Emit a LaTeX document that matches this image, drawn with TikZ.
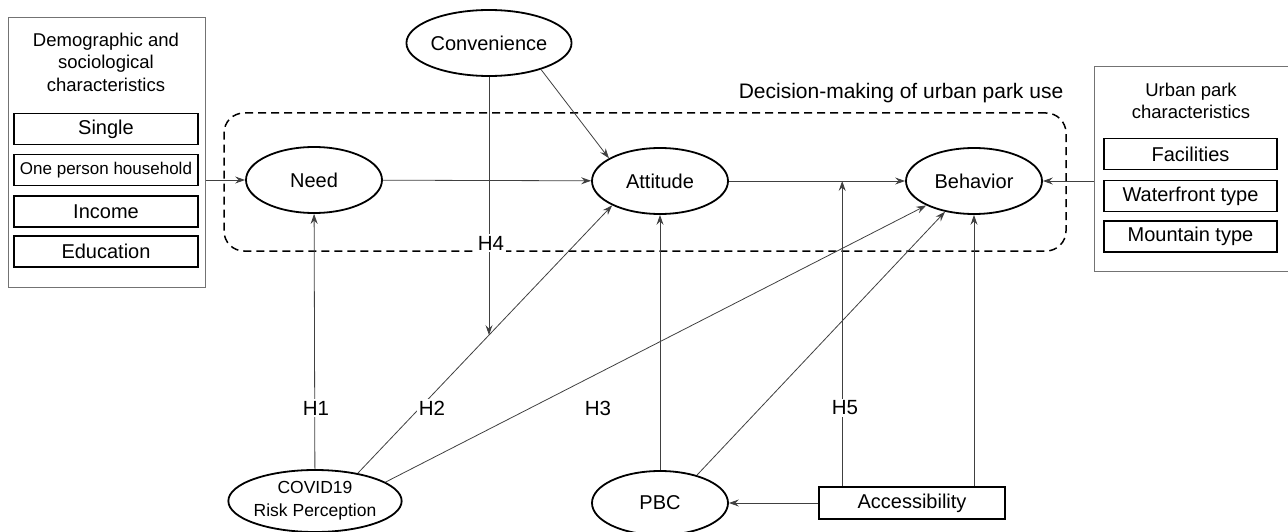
\documentclass[tikz,border=0pt]{standalone}
\usepackage{fontspec}
\setmainfont{Liberation Sans}
\usetikzlibrary{arrows.meta,shapes.geometric,calc,intersections}
\begin{document}
\begin{tikzpicture}[x=1pt,y=-1pt,
 ell/.style={ellipse,draw=black,line width=1.8pt,minimum width=136pt,minimum height=66pt,inner sep=0pt,font=\fontsize{20}{23}\selectfont},
 item/.style={rectangle,draw=black,line width=1.6pt,minimum width=184pt,minimum height=31pt,inner sep=0pt,font=\fontsize{20}{23}\selectfont},
 grp/.style={rectangle,draw=black!55,line width=1pt,inner sep=0pt},
 conn/.style={draw=black!75,line width=0.8pt,-{Stealth[length=10pt,width=7pt,inset=3.5pt]}},
 hlab/.style={fill=white,inner sep=2pt,font=\fontsize{20.5}{23}\selectfont},
 ttl/.style={align=center,font=\fontsize{18.5}{22.5}\selectfont}
]
\useasboundingbox (0,0) rectangle (1288,532);
\clip (0,0) rectangle (1288,532);

% left group
\node[grp,minimum width=197pt,minimum height=269pt] (lbox) at (106.5,152.5) {};
\node[ttl] (ltitle) at (106,62) {Demographic and\\sociological\\characteristics};
\node[item] (single) at (106,129) {Single};
\node[item,font=\fontsize{17}{20}\selectfont] (oneph) at (106,170) {One person household};
\node[item] (income) at (106,211.5) {Income};
\node[item] (edu) at (106,251.5) {Education};

% right group
\node[grp,minimum width=204pt,minimum height=204pt] (rbox) at (1196,169) {};
\node[ttl] (rtitle) at (1191,101) {Urban park\\characteristics};
\node[item,minimum width=173pt] (fac) at (1190.5,154) {Facilities};
\node[item,minimum width=173pt] (water) at (1190.5,196) {Waterfront type};
\node[item,minimum width=173pt] (mount) at (1190.5,236.5) {Mountain type};

% decision-making frame
\node[draw=black,line width=1.5pt,dash pattern=on 8pt off 5pt,rounded corners=20pt,
      minimum width=842pt,minimum height=138pt,inner sep=0pt] (dm) at (645,182) {};
\node[font=\fontsize{21}{24}\selectfont] (dmlab) at (901,93) {Decision-making of urban park use};

% constructs
\node[ell] (need) at (314,180) {Need};
\node[ell] (att) at (660,181) {Attitude};
\node[ell] (beh) at (974,181) {Behavior};
\node[ell,minimum width=134pt] (conv) at (489,43) {Convenience};
\node[ell,minimum width=138pt,minimum height=62pt,align=center,font=\fontsize{17.5}{23}\selectfont] (cov) at (315,501) {COVID19\\Risk Perception};
\node[ell,minimum height=64pt] (pbc) at (660,503) {PBC};
\node[item,minimum width=186pt,minimum height=32pt] (acc) at (912,503) {Accessibility};

% connectors
\draw[conn] (need -| lbox.east) -- (need);
\draw[conn] (need) -- (att);
\draw[conn] (att) -- (beh);
\draw[conn] (beh -| rbox.west) -- (beh);
\draw[conn] (conv.-27) -- (att.156);
\draw[conn] (cov) -- (need);
\draw[conn,name path=c2] (cov.33) -- (att.207);
\path[name path=v4] (conv.south) -- ++(0,420);
\path[name intersections={of=v4 and c2,by=x4}];
\draw[conn] (conv.south) -- (x4);
\draw[conn] (cov.15) -- (beh);
\draw[conn] (pbc) -- (att);
\draw[conn] (pbc.37) -- (beh);
\draw[conn] (acc) -- (pbc);
\coordinate (a5) at ($(acc.north west)+(24,0)$);
\draw[conn] (a5) -- (a5 |- att);
\coordinate (a6) at (beh.south |- acc.north);
\draw[conn] (a6) -- (beh.south);

% hypothesis labels
\node[hlab] (h4) at (491,243) {H4};
\node[hlab] (h1) at (316,408) {H1};
\node[hlab] (h2) at (432,408) {H2};
\node[hlab] (h3) at (598,408) {H3};
\node[hlab] (h5) at (845,408) {H5};
\end{tikzpicture}
\end{document}
